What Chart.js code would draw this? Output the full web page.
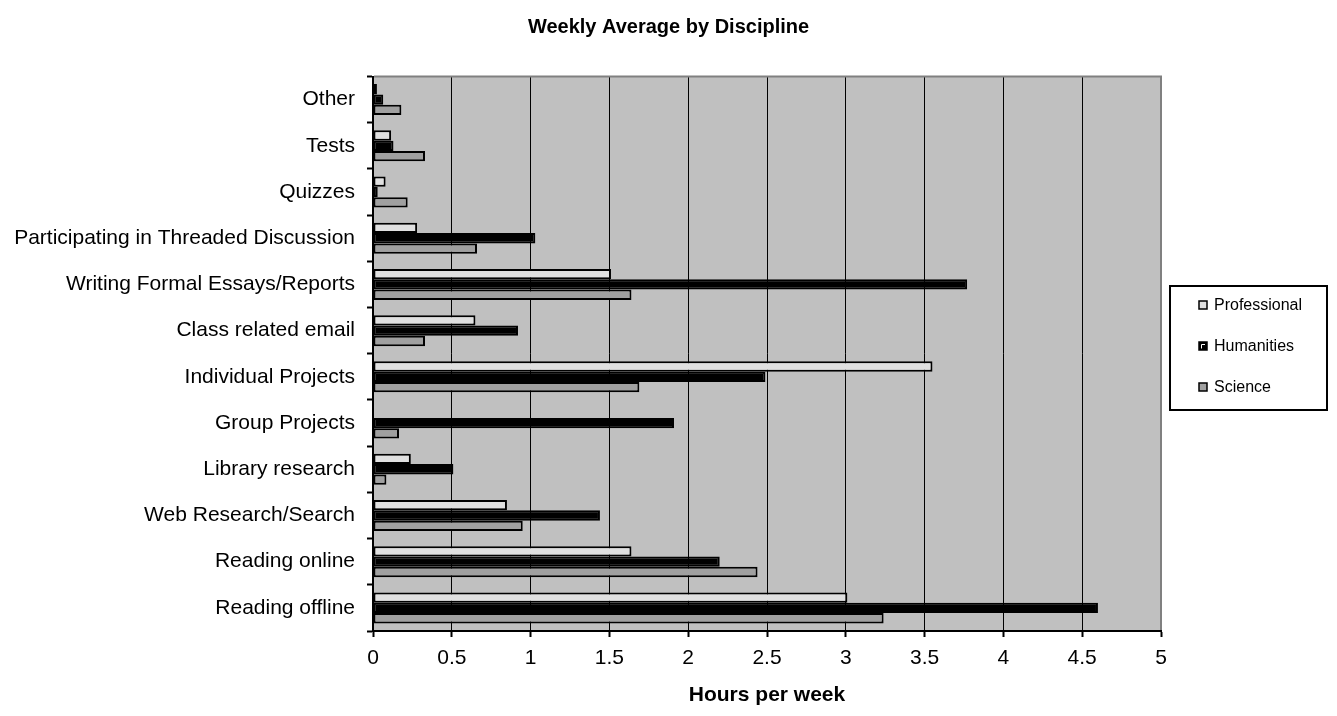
<!DOCTYPE html>
<html>
<head>
<meta charset="utf-8">
<title>Weekly Average by Discipline</title>
<script src="https://cdn.jsdelivr.net/npm/chart.js@4.4.0/dist/chart.umd.min.js"></script>
<style>
  html, body { margin: 0; padding: 0; background: #fff; }
  #chart { display: block; }
</style>
</head>
<body>
<canvas id="chart" width="1337" height="716"></canvas>
<script>
// categories top to bottom, as in the picture
const activities = [
  "Other",
  "Tests",
  "Quizzes",
  "Participating in Threaded Discussion",
  "Writing Formal Essays/Reports",
  "Class related email",
  "Individual Projects",
  "Group Projects",
  "Library research",
  "Web Research/Search",
  "Reading online",
  "Reading offline",
];
const professional = [0.025, 0.115, 0.08, 0.28, 1.51, 0.65, 3.55, 0, 0.24, 0.85, 1.64, 3.01];
const humanities = [0.065, 0.13, 0.03, 1.03, 3.77, 0.92, 2.49, 1.91, 0.51, 1.44, 2.2, 4.6];
const science = [0.18, 0.33, 0.22, 0.66, 1.64, 0.33, 1.69, 0.165, 0.085, 0.95, 2.44, 3.24];
const hoursMin = 0;
const hoursMax = 5;
const hoursStep = 0.5;

const FONT = "'Liberation Sans', Arial, sans-serif";
Chart.defaults.font.family = FONT;
Chart.defaults.color = "#000";

// grey plot area, grey frame top/right
const plotFrame = {
  id: "plotFrame",
  beforeDraw(chart) {
    const { ctx, chartArea: a } = chart;
    ctx.save();
    ctx.fillStyle = "#c0c0c0";
    ctx.fillRect(a.left, a.top, a.right - a.left, a.bottom - a.top);
    ctx.restore();
  },
  afterDraw(chart) {
    const { ctx, chartArea: a } = chart;
    ctx.save();
    ctx.strokeStyle = "#808080";
    ctx.lineWidth = 2;
    ctx.beginPath();
    ctx.moveTo(a.left + 1, a.top);
    ctx.lineTo(a.right, a.top);
    ctx.lineTo(a.right, a.bottom - 1);
    ctx.stroke();
    ctx.restore();
  },
};

// boxed legend on the right
const boxLegend = {
  id: "boxLegend",
  afterDraw(chart) {
    const ctx = chart.ctx;
    ctx.save();
    ctx.strokeStyle = "#000";
    ctx.lineWidth = 2;
    ctx.strokeRect(1170, 286, 157, 124);
    ctx.font = "16px " + FONT;
    ctx.textBaseline = "middle";
    ctx.textAlign = "left";
    chart.data.datasets.forEach((ds, i) => {
      const y = 305 + i * 41;
      ctx.fillStyle = ds.backgroundColor;
      ctx.fillRect(1199, y - 4, 8, 8);
      ctx.lineWidth = 1.5;
      ctx.strokeStyle = "#000";
      ctx.strokeRect(1199, y - 4, 8, 8);
      if (ds.backgroundColor === "#000000") {
        ctx.strokeStyle = "#fff";
        ctx.lineWidth = 1;
        ctx.beginPath();
        ctx.moveTo(1201.5, y + 2.5);
        ctx.lineTo(1201.5, y - 1.5);
        ctx.lineTo(1205, y - 1.5);
        ctx.stroke();
      }
      ctx.fillStyle = "#000";
      ctx.fillText(ds.label, 1214, y + 1);
    });
    ctx.restore();
  },
};

const barStyle = {
  borderColor: "#000",
  borderWidth: 2,
  borderSkipped: false,
  categoryPercentage: 0.67,
  barPercentage: 1.0,
};

new Chart(document.getElementById("chart"), {
  type: "bar",
  plugins: [plotFrame, boxLegend],
  data: {
    labels: activities,
    datasets: [
      { label: "Professional", data: professional, backgroundColor: "#e0e0e0", ...barStyle },
      { label: "Humanities", data: humanities, backgroundColor: "#000000", ...barStyle },
      { label: "Science", data: science, backgroundColor: "#a0a0a0", ...barStyle },
    ],
  },
  options: {
    indexAxis: "y",
    responsive: false,
    animation: false,
    layout: { padding: 0 },
    plugins: {
      legend: { display: false },
      tooltip: { enabled: false },
      title: {
        display: true,
        text: "Weekly Average by Discipline",
        color: "#000",
        font: { size: 20, weight: "bold" },
        padding: { top: 15, bottom: 37.5 },
      },
    },
    scales: {
      x: {
        min: hoursMin,
        max: hoursMax,
        afterFit: (scale) => { scale.height = 85; },
        ticks: {
          stepSize: hoursStep,
          font: { size: 21 },
          padding: 9,
          color: "#000",
          callback: (v) => v,
        },
        grid: { color: "#000", lineWidth: 1, tickLength: 6, tickColor: "#000", tickWidth: 2 },
        border: { color: "#000", width: 2 },
        title: {
          display: true,
          text: "Hours per week",
          color: "#000",
          font: { size: 21, weight: "bold" },
          padding: { top: 0, bottom: 8 },
        },
      },
      y: {
        afterFit: (scale) => { scale.width = 373; },
        ticks: { font: { size: 21 }, padding: 12, color: "#000", autoSkip: false },
        grid: {
          drawOnChartArea: false,
          offset: true,
          tickLength: 6,
          tickColor: "#000",
          tickWidth: 2,
        },
        border: { color: "#000", width: 2 },
      },
      // empty axis that only keeps room for the boxed legend
      legendSpace: {
        type: "linear",
        position: "right",
        afterFit: (scale) => { scale.width = 176; },
        ticks: { display: false },
        grid: { display: false },
        border: { display: false },
      },
    },
  },
});
</script>
</body>
</html>
